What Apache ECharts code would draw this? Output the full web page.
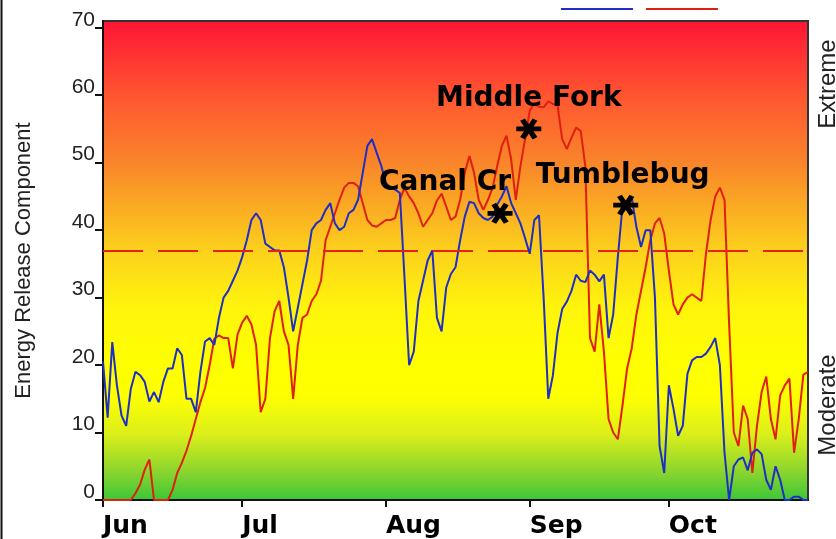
<!DOCTYPE html>
<html>
<head>
<meta charset="utf-8">
<script src="https://cdn.jsdelivr.net/npm/echarts@6/dist/echarts.min.js"></script>
<style>
  html, body { margin: 0; padding: 0; background: #fff; }
  #chart { width: 836px; height: 539px; }
</style>
</head>
<body>
<div id="chart"></div>
<script>
// days counted from Jun 1 (0) to Oct 31 (152)
const monthStarts = [0, 30, 61, 92, 122]
const monthLabels = ['Jun', 'Jul', 'Aug', 'Sep', 'Oct']
const yTicks = [0, 10, 20, 30, 40, 50, 60, 70]

const blueErc = [
  20.5, 12.2, 23.4, 17, 12.5, 11, 16.5, 19, 18.5, 17.5,
  14.6, 16, 14.5, 17.5, 19.5, 19.5, 22.5, 21.5, 15, 15,
  13, 19, 23.5, 24, 23, 27, 30, 31, 32.5, 34,
  36, 38.5, 41.5, 42.5, 41.5, 38, 37.5, 37, 37, 34.5,
  30, 25, 28.5, 32, 35.5, 40, 41, 41.5, 43, 44,
  41, 40, 40.5, 42.5, 43, 44.5, 48.5, 52.5, 53.5, 51.5,
  49.5, 47, 46.3, 46, 45.5, 33, 20, 22, 29.5, 32.5,
  35.5, 37, 27, 25, 31.5, 33.5, 34.5, 38.5, 42, 44.2,
  44, 42.5, 41.8, 41.5, 42, 43.8, 45, 46.5, 44, 42.5,
  41, 38.8, 36.5, 41.5, 42.2, 30, 15, 18.5, 24.8, 28.3,
  29.4, 31, 33.4, 32.5, 32.3, 34, 33.4, 32.4, 33.4, 24,
  27.5, 36, 43.5, 44.3, 44.8, 40.5, 37.5, 40, 40, 30,
  8, 4, 17, 13.5, 9.5, 11, 18.7, 20.7, 21.2, 21.2,
  21.7, 22.7, 24, 20, 7, 0, 5, 6, 6.3, 4.4,
  7, 7.5, 6.8, 3, 1.5, 5, 3, 0, 0, 0.5,
  0.5, 0, 0,
]

const redErc = [
  0, 0, 0, 0, 0, 0, 0, 1, 2.3, 4.5,
  6, 0, 0, 0, 0, 1.5, 4, 5.5, 7.3, 9.5,
  12, 14.5, 16.6, 20, 23.9, 24.4, 24, 24, 19.5, 24.5,
  26.3, 27.3, 26, 23, 13, 15, 24, 28, 29.5, 25,
  23, 15, 23, 27, 27.5, 29.5, 30.5, 32.5, 38.5, 40.5,
  42.5, 44.5, 46.3, 47, 47, 46.5, 44, 41.5, 40.7, 40.5,
  41, 41.5, 41.5, 41.8, 44.5, 46.3, 45, 44, 42.5, 40.5,
  41.5, 42.5, 44.4, 45.4, 43.5, 41.5, 42, 44.5, 48.5, 51,
  48.5, 44.5, 43, 44.5, 46.3, 49.5, 52.5, 54, 50.5, 44.5,
  49.5, 53.5, 57.7, 58.8, 58.3, 58.2, 59.1, 58.7, 58.5, 53.5,
  52, 53.7, 55.2, 54.7, 49.4, 24, 22, 29, 22, 12,
  10, 9, 14, 19.5, 22.5, 27.5, 31, 34.5, 38.5, 41,
  41.8, 39.5, 34, 29, 27.5, 29, 30, 30.5, 30, 29.5,
  36.5, 41.5, 45, 46.3, 44.5, 26, 10, 8, 14, 12,
  4, 11, 16, 18.3, 12, 9, 15.5, 17, 18, 7,
  12, 18.6, 19,
]

const extremeLevel = 37

const fireNames = ['Canal Cr', 'Middle Fork', 'Tumblebug']
const fireDays = [85.6, 91.8, 112.7]
const fireErc = [42.5, 55, 43.7]

// label offsets from each star (layout only)
const fireLabelOffsets = [[-55, -31], [0, -30], [-3, -29]]

// asterisk: one flat bar and two at +-60 degrees
const star = 'path://M0 7.8L20 7.8L20 12.2L0 12.2Z' +
  'M6.905 0.24L16.905 17.56L13.095 19.76L3.095 2.44Z' +
  'M3.095 17.56L13.095 0.24L16.905 2.44L6.905 19.76Z'

const chart = echarts.init(document.getElementById('chart'))

const bg = new echarts.graphic.LinearGradient(0, 0, 0, 1, [
  { offset: 0, color: '#ff1535' },
  { offset: 0.17, color: '#ff5a30' },
  { offset: 0.3, color: '#f9862a' },
  { offset: 0.48, color: '#fcd11c' },
  { offset: 0.6, color: '#fff50c' },
  { offset: 0.72, color: '#ffff00' },
  { offset: 0.78, color: '#ffff00' },
  { offset: 0.86, color: '#dcef1a' },
  { offset: 0.94, color: '#8ad52e' },
  { offset: 1, color: '#38c638' },
])

chart.setOption({
  animation: false,
  legend: {
    left: 556,
    top: 3,
    icon: 'rect',
    itemWidth: 72,
    itemHeight: 2,
    itemGap: 13,
    formatter: () => '',
    textStyle: { fontSize: 2 },
    data: ['Current', 'Historic'],
  },
  grid: {
    left: 103,
    right: 28,
    top: 21,
    bottom: 39,
    show: true,
    backgroundColor: bg,
    borderColor: '#333',
    borderWidth: 2,
  },
  xAxis: {
    type: 'value',
    min: 0,
    max: 152,
    splitLine: { show: false },
    axisLine: { lineStyle: { color: '#111', width: 2 } },
    axisTick: { customValues: monthStarts, length: 7, lineStyle: { color: '#111', width: 2 } },
    axisLabel: {
      customValues: monthStarts,
      formatter: v => monthLabels[monthStarts.indexOf(v)],
      align: 'left',
      margin: 14,
      fontSize: 25,
      fontWeight: 'bold',
      fontFamily: 'DejaVu Sans',
      color: '#000',
    },
  },
  yAxis: {
    type: 'value',
    min: 0,
    max: 71,
    splitLine: { show: false },
    name: 'Energy Release Component',
    nameLocation: 'middle',
    nameGap: 68,
    nameTextStyle: { fontSize: 22, fontFamily: 'Liberation Sans', color: '#222' },
    axisLine: { show: true, lineStyle: { color: '#111', width: 2 } },
    axisTick: { show: true, customValues: yTicks, length: 8, lineStyle: { color: '#111', width: 2 } },
    axisLabel: {
      customValues: yTicks,
      margin: 8,
      verticalAlign: 'bottom',
      lineHeight: 16,
      fontSize: 21,
      fontFamily: 'Liberation Sans',
      color: '#222',
    },
  },
  graphic: [
    { type: 'line', shape: { x1: 1.5, y1: 0, x2: 1.5, y2: 539 }, style: { stroke: '#111', lineWidth: 2 } },
    {
      type: 'text', x: 828, y: 84, rotation: Math.PI / 2,
      style: { text: 'Extreme', fontSize: 24, fontFamily: 'Liberation Sans', fill: '#222', align: 'center', verticalAlign: 'middle' },
    },
    {
      type: 'text', x: 828, y: 405, rotation: Math.PI / 2,
      style: { text: 'Moderate', fontSize: 24, fontFamily: 'Liberation Sans', fill: '#222', align: 'center', verticalAlign: 'middle' },
    },
  ],
  series: [
    {
      name: 'Current',
      type: 'line',
      data: blueErc.map((v, i) => [i, v]),
      symbol: 'none',
      color: '#1f2fc4',
      lineStyle: { width: 2, color: '#1f2fc4' },
      z: 3,
    },
    {
      name: 'Historic',
      type: 'line',
      data: redErc.map((v, i) => [i, v]),
      symbol: 'none',
      color: '#e0200f',
      lineStyle: { width: 2, color: '#e0200f' },
      z: 2,
      markLine: {
        silent: true,
        symbol: ['none', 'none'],
        label: { show: false },
        lineStyle: { color: '#e8201a', type: [40, 15], width: 2 },
        data: [{ yAxis: extremeLevel }],
      },
    },
    {
      type: 'scatter',
      symbol: star,
      symbolSize: [25, 21],
      itemStyle: { color: '#000', opacity: 1 },
      z: 5,
      data: fireNames.map((name, i) => ({
        name,
        value: [fireDays[i], fireErc[i]],
        label: { offset: fireLabelOffsets[i] },
      })),
      label: {
        show: true,
        position: 'inside',
        formatter: p => p.name,
        fontSize: 28,
        fontWeight: 'bold',
        fontFamily: 'DejaVu Sans',
        color: '#000',
        opacity: 1,
        textBorderWidth: 0,
      },
    },
  ],
})
</script>
</body>
</html>
